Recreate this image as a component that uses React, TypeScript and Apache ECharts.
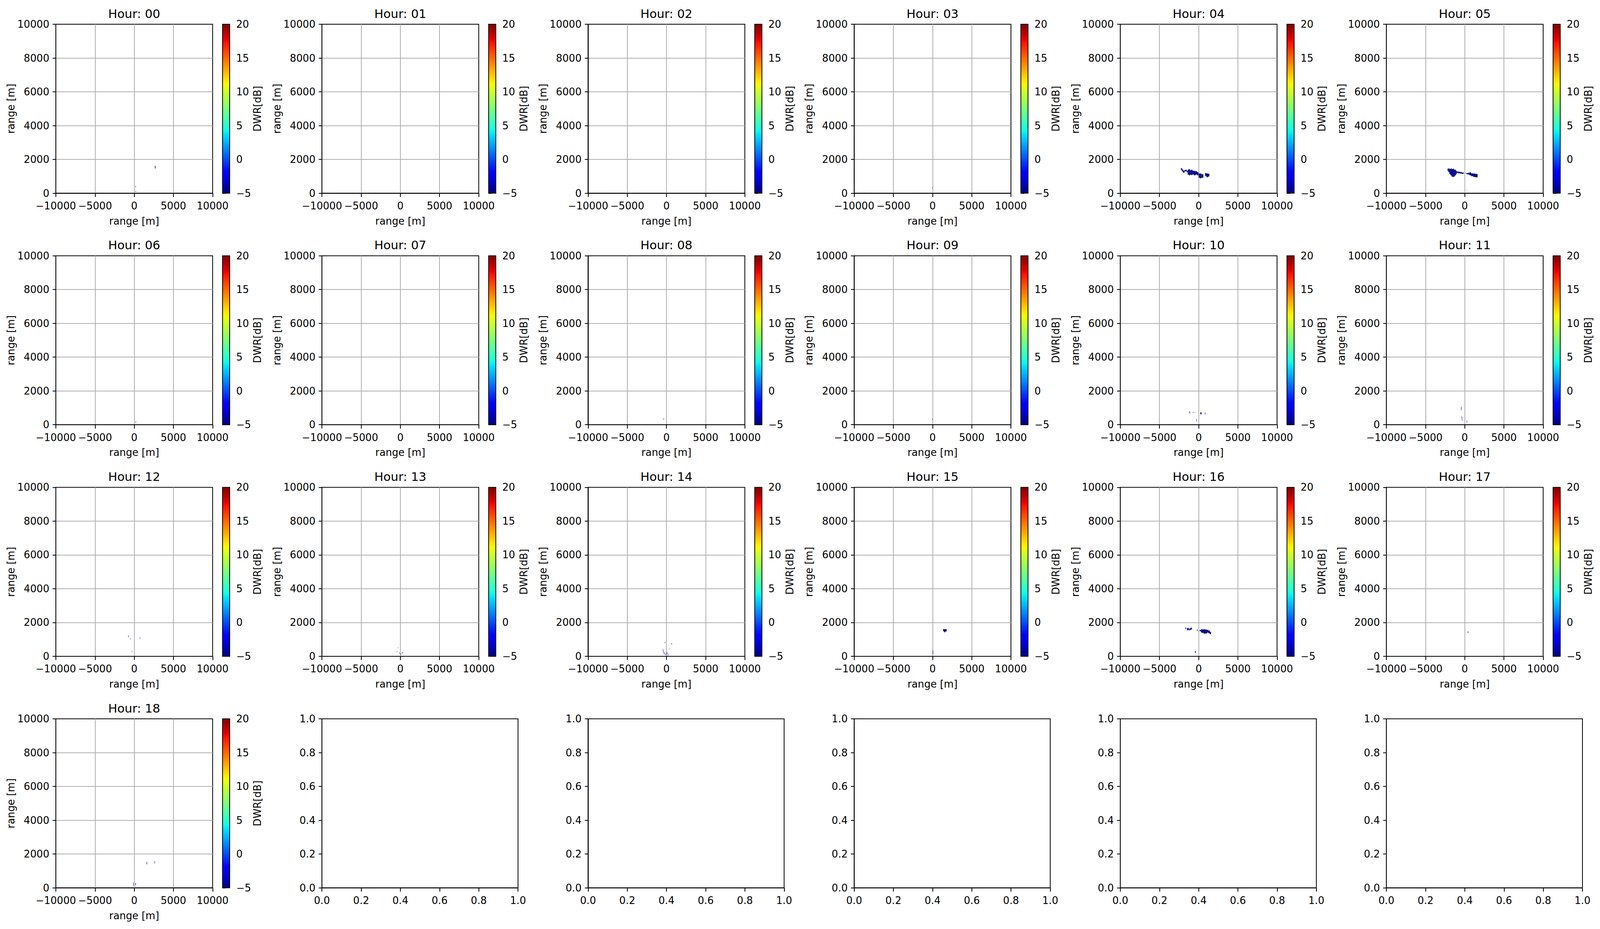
import React, { useEffect, useRef } from "react";
import * as echarts from "echarts";

// ---------- data ----------
const HOURS = ["00","01","02","03","04","05","06","07","08","09","10","11","12","13","14","15","16","17","18"];
const X_TICKS = [-10000, -5000, 0, 5000, 10000];
const Y_TICKS = [0, 2000, 4000, 6000, 8000, 10000];
const CBAR_TICKS = [-5, 0, 5, 10, 15, 20];
const EMPTY_TICKS = [0, 0.2, 0.4, 0.6, 0.8, 1.0];

// cells: [x0 (m), x1 (m), y0 (m), y1 (m), DWR (dB)]
const cells00 = [[2640,2720,1460,1620,-5],[150,200,360,430,-5],[170,230,80,140,-5]];
const cells01: number[][] = [];
const cells02: number[][] = [];
const cells03 = [[-30,20,280,340,-5]];
const cells04 = [
  [-2260,-2160,1380,1490,-5],[-2160,-2060,1320,1440,-5],[-2060,-1950,1250,1390,-5],
  [-1950,-1820,1210,1330,-5],[-1820,-1680,1290,1370,-5],[-1680,-1530,1300,1390,-5],
  [-1530,-1420,1240,1330,-5],[-1400,-1250,1100,1380,-5],[-1300,-1260,1380,1440,-5],
  [-1250,-1100,1050,1420,-5],[-1100,-950,1090,1360,-5],[-950,-800,1070,1390,-5],
  [-800,-610,1110,1330,-5],[-610,-400,1060,1320,-5],[-400,-200,1100,1300,-5],
  [-200,-40,1060,1250,-5],[0,150,920,1170,-5],[150,350,880,1160,-5],[350,600,920,1120,-5],
  [830,1000,1020,1190,-5],[1000,1200,950,1160,-5],[1200,1360,990,1150,-5]
];
const cells05 = [
  [-2200,-2100,1330,1450,-5],[-2100,-1960,1240,1460,-5],[-1960,-1820,1130,1440,-5],
  [-1820,-1680,1060,1450,-5],[-1700,-1660,1450,1490,-5],[-1680,-1540,980,1420,-5],
  [-1540,-1400,960,1440,-5],[-1450,-1410,1440,1480,-5],[-1400,-1260,990,1400,-5],
  [-1260,-1120,1060,1380,-5],[-1120,-1030,1140,1330,-5],[-1030,-820,1200,1280,-5],
  [-820,-600,1180,1270,-5],[-600,-380,1160,1250,-5],[-380,-120,1150,1220,-5],
  [30,80,1170,1200,-5],[210,420,1120,1190,-5],[420,600,1110,1200,-5],[600,810,1060,1230,-5],
  [810,1090,1010,1170,-5],[1090,1350,960,1160,-5],[1350,1630,940,1140,-5],[250,290,170,200,-5]
];
const cells06 = [[180,240,130,190,-5]];
const cells07: number[][] = [];
const cells08 = [[-380,-330,300,380,-5]];
const cells09 = [[-20,30,280,360,-5]];
const cells10 = [
  [-1170,-1110,670,800,-5],[-740,-700,700,760,-5],[-620,-580,710,740,-5],[-460,-430,700,740,-5],
  [210,330,620,740,-5],[360,420,640,700,-5],[800,850,600,740,-5],[-280,-250,180,350,-5]
];
const cells11 = [[-470,-420,850,1060,-5],[-390,-340,350,490,-5],[-360,-300,260,320,-5],[250,300,140,250,-5]];
const cells12 = [[-760,-710,1130,1240,-5],[-500,-470,1000,1050,-5],[710,760,1040,1110,-5],[-300,-270,240,310,-5]];
const cells13 = [
  [-300,-260,470,520,-5],[-470,-430,240,310,-5],[-140,-100,150,240,-5],
  [40,80,80,180,-5],[200,260,180,230,-5],[300,350,200,240,-5]
];
const cells14 = [
  [-200,-160,780,855,-5],[650,700,700,780,-5],[320,360,430,470,-5],[-450,-410,280,430,-5],
  [-380,-340,150,300,-5],[-250,-200,100,220,-5],[-100,-60,60,160,-5],[60,110,120,260,-5],[180,230,40,150,-5]
];
const cells15 = [[1360,1480,1480,1610,-5],[1480,1620,1420,1600,-5],[1620,1790,1470,1610,-5],[30,80,120,360,-5]];
const cells16 = [
  [-1700,-1620,1600,1710,-5],[-1490,-1420,1520,1680,-5],[-1420,-1320,1560,1650,-5],
  [-1320,-1250,1540,1690,-5],[-1200,-1100,1540,1640,-5],[-1100,-960,1560,1660,-5],
  [-960,-860,1590,1700,-5],[-210,-140,1500,1595,-5],[130,300,1480,1560,-5],
  [300,450,1400,1600,-5],[450,650,1380,1590,-5],[650,850,1340,1600,-5],[850,1050,1350,1580,-5],
  [1050,1250,1400,1560,-5],[1250,1420,1360,1520,-5],[1420,1580,1310,1440,-5],[-470,-380,200,310,-5]
];
const cells17 = [[380,440,1380,1480,-5]];
const cells18 = [[1580,1640,1390,1530,-5],[2590,2640,1440,1580,-5],[-130,-90,120,320,-5],[150,210,150,280,-5]];

const CELLS = [cells00,cells01,cells02,cells03,cells04,cells05,cells06,cells07,cells08,cells09,
  cells10,cells11,cells12,cells13,cells14,cells15,cells16,cells17,cells18];

// ---------- jet colormap ----------
const JET_R = [[0,0],[0.35,0],[0.66,1],[0.89,1],[1,0.5]];
const JET_G = [[0,0],[0.125,0],[0.375,1],[0.64,1],[0.91,0],[1,0]];
const JET_B = [[0,0.5],[0.11,1],[0.34,1],[0.65,0],[1,0]];
function interp(seg: number[][], t: number) {
  for (let i = 1; i < seg.length; i++) {
    if (t <= seg[i][0]) {
      const [t0, v0] = seg[i - 1];
      const [t1, v1] = seg[i];
      return v0 + (v1 - v0) * (t - t0) / (t1 - t0);
    }
  }
  return seg[seg.length - 1][1];
}
function jetT(t: number) {
  t = Math.max(0, Math.min(1, t));
  const r = Math.round(interp(JET_R, t) * 255);
  const g = Math.round(interp(JET_G, t) * 255);
  const b = Math.round(interp(JET_B, t) * 255);
  return `rgb(${r},${g},${b})`;
}
const VMIN = -5, VMAX = 20;
const jet = (v: number) => jetT((v - VMIN) / (VMAX - VMIN));

// ---------- layout (reference pixels, scaled to the viewport) ----------
const REF_W = 4780, REF_H = 2378;
const FONT = "DejaVu Sans";

const fmt = (v: number) => (v < 0 ? "\u2212" + Math.abs(v) : String(v));

export default function App() {
  const ref = useRef<HTMLDivElement>(null);
  useEffect(() => {
    if (!ref.current) return;
    const W = ref.current.clientWidth || window.innerWidth || REF_W;
    const H = ref.current.clientHeight || window.innerHeight || REF_H;
    const SX = W / REF_W, SY = H / REF_H;
    const SF = Math.sqrt(SX * SY);
    const TICK_FS = 27.8 * SF;
    const TITLE_FS = 33.3 * SF;
    const LW = 2.2 * SF;
    const PLOT_LEFT0 = 166.8 * SX, COL_STEP = 795 * SX, PLOT_TOP0 = 62 * SY, ROW_STEP = 592.7 * SY;
    const PLOT_W = 468.4 * SX, PLOT_H = 432.5 * SY, CBAR_OFF = 498 * SX, CBAR_W = 21.4 * SX, EMPTY_W = 585.8 * SX;
    const labelStyle = { color: "#000", fontSize: TICK_FS, fontFamily: FONT };

    const chart = echarts.init(ref.current, undefined, { renderer: "svg" });
    const grid: any[] = [], xAxis: any[] = [], yAxis: any[] = [], series: any[] = [], title: any[] = [];
    const stops: any[] = [];
    for (let i = 0; i <= 100; i++) stops.push({ offset: i / 100, color: jetT(i / 100) });

    const xTick = { show: true, inside: false, length: 9.7 * SY, lineStyle: { color: "#000", width: LW } };
    const yTick = { show: true, inside: false, length: 9.7 * SX, lineStyle: { color: "#000", width: LW } };
    const xMargin = 19.4 * SY, yMargin = 19.4 * SX;
    for (let k = 0; k < 24; k++) {
      const r = Math.floor(k / 6), c = k % 6;
      const left = PLOT_LEFT0 + COL_STEP * c;
      const top = PLOT_TOP0 + ROW_STEP * r;
      if (k < HOURS.length) {
        const gi = grid.length;
        grid.push({ left, top, width: PLOT_W, height: PLOT_H, show: true, borderColor: "#000", borderWidth: LW, containLabel: false });
        xAxis.push({
          gridIndex: gi, type: "value", min: X_TICKS[0], max: X_TICKS[X_TICKS.length - 1], interval: X_TICKS[1] - X_TICKS[0],
          axisLine: { show: true, onZero: false, lineStyle: { color: "#000", width: LW } },
          axisTick: xTick,
          axisLabel: { ...labelStyle, margin: xMargin, formatter: fmt, showMinLabel: true, showMaxLabel: true, hideOverlap: false },
          splitLine: { show: true, showMinLine: false, showMaxLine: false, lineStyle: { color: "#b0b0b0", width: LW } },
          name: "range [m]", nameLocation: "middle", nameGap: 58 * SY, nameTextStyle: labelStyle,
        });
        yAxis.push({
          gridIndex: gi, type: "value", min: Y_TICKS[0], max: Y_TICKS[Y_TICKS.length - 1], interval: Y_TICKS[1] - Y_TICKS[0],
          axisLine: { show: true, onZero: false, lineStyle: { color: "#000", width: LW } },
          axisTick: yTick,
          axisLabel: { ...labelStyle, margin: yMargin, formatter: fmt, showMinLabel: true, showMaxLabel: true, hideOverlap: false },
          splitLine: { show: true, showMinLine: false, showMaxLine: false, lineStyle: { color: "#b0b0b0", width: LW } },
          name: "range [m]", nameLocation: "middle", nameGap: 118 * SX, nameRotate: 90, nameTextStyle: labelStyle,
        });
        series.push({
          type: "custom", xAxisIndex: gi, yAxisIndex: gi, clip: true, silent: true,
          data: CELLS[k], encode: { x: [0, 1], y: [2, 3] },
          renderItem: (params: any, api: any) => {
            const p0 = api.coord([api.value(0), api.value(2)]);
            const p1 = api.coord([api.value(1), api.value(3)]);
            return {
              type: "rect",
              shape: { x: p0[0], y: p1[1], width: Math.max(SX, p1[0] - p0[0]), height: Math.max(SY, p0[1] - p1[1]) },
              style: { fill: jet(api.value(4)) },
            };
          },
        });
        title.push({
          text: "Hour: " + HOURS[k], left: left + PLOT_W / 2, top: top - 27.4 * SY, padding: 0,
          textAlign: "center", textVerticalAlign: "middle",
          textStyle: { fontSize: TITLE_FS, fontWeight: "normal", color: "#000", fontFamily: FONT },
        });
        // colorbar
        const ci = grid.length;
        grid.push({ left: left + CBAR_OFF, top, width: CBAR_W, height: PLOT_H, show: false, containLabel: false });
        xAxis.push({ gridIndex: ci, type: "value", min: 0, max: 1, show: false });
        yAxis.push({
          gridIndex: ci, type: "value", position: "right",
          min: CBAR_TICKS[0], max: CBAR_TICKS[CBAR_TICKS.length - 1], interval: CBAR_TICKS[1] - CBAR_TICKS[0],
          axisLine: { show: false },
          axisTick: yTick,
          axisLabel: { ...labelStyle, margin: yMargin, formatter: fmt, showMinLabel: true, showMaxLabel: true },
          splitLine: { show: false },
          name: "DWR[dB]", nameLocation: "middle", nameGap: 66 * SX, nameRotate: 90, nameTextStyle: labelStyle,
        });
        series.push({
          type: "custom", xAxisIndex: ci, yAxisIndex: ci, silent: true,
          data: [[0, 1, VMIN, VMAX]], encode: { x: [0, 1], y: [2, 3] },
          renderItem: (params: any, api: any) => {
            const p0 = api.coord([api.value(0), api.value(2)]);
            const p1 = api.coord([api.value(1), api.value(3)]);
            return {
              type: "rect",
              shape: { x: p0[0], y: p1[1], width: p1[0] - p0[0], height: p0[1] - p1[1] },
              style: { fill: new echarts.graphic.LinearGradient(0, 1, 0, 0, stops), stroke: "#000", lineWidth: LW },
            };
          },
        });
      } else {
        const gi = grid.length;
        grid.push({ left, top, width: EMPTY_W, height: PLOT_H, show: true, borderColor: "#000", borderWidth: LW, containLabel: false });
        const ax = {
          gridIndex: gi, type: "value", min: EMPTY_TICKS[0], max: EMPTY_TICKS[EMPTY_TICKS.length - 1], interval: 0.2,
          axisLine: { show: true, onZero: false, lineStyle: { color: "#000", width: LW } },
          axisLabel: { ...labelStyle, formatter: (v: number) => v.toFixed(1), showMinLabel: true, showMaxLabel: true, hideOverlap: false },
          splitLine: { show: false },
        };
        xAxis.push({ ...ax, axisTick: xTick, axisLabel: { ...ax.axisLabel, margin: xMargin } });
        yAxis.push({ ...ax, axisTick: yTick, axisLabel: { ...ax.axisLabel, margin: yMargin } });
        series.push({ type: "scatter", xAxisIndex: gi, yAxisIndex: gi, data: [], silent: true });
      }
    }

    chart.setOption({
      animation: false,
      backgroundColor: "#fff",
      textStyle: { fontFamily: FONT },
      title, grid, xAxis, yAxis, series,
    });
    return () => chart.dispose();
  }, []);
  return (
    <div
      ref={ref}
      style={{ position: "fixed", left: 0, top: 0, width: "100vw", height: "100vh", background: "#fff" }}
    />
  );
}
